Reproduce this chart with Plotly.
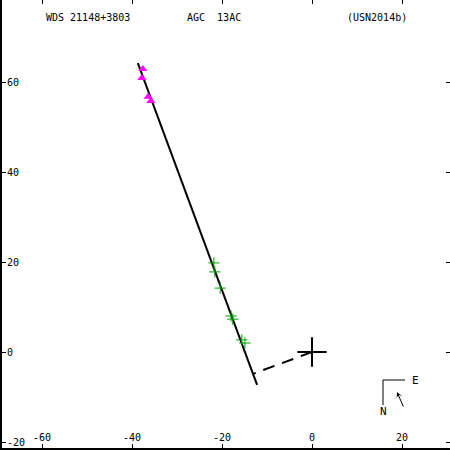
import plotly.graph_objects as go

# ---- data ----
fit_x = [-38.7, -12.2]          # linear fit line endpoints
fit_y = [64.2, -7.3]
perp_x = [0.0, -13.1]           # dashed line: primary -> closest point of fit
perp_y = [0.0, -4.85]
primary_x = [0.0]
primary_y = [0.0]
tri_x = [-37.6, -37.8, -36.4, -35.8]          # magenta triangles
tri_y = [62.9, 60.9, 56.7, 55.8]
plus_x = [-21.8, -21.6, -20.4, -18.0, -17.6, -15.6, -14.9]   # green pluses
plus_y = [19.8, 17.8, 14.2, 8.0, 7.3, 2.7, 2.0]

x_tick_vals = [-60, -40, -20, 0, 20]
x_tick_labels = ["-60", "-40", "-20", "0", "20"]
y_tick_vals = [-20, 0, 20, 40, 60]
y_tick_labels = ["-20", "0", "20", "40", "60"]

x_range = [-68.889, 30.667]
y_range = [-21.333, 78.222]

FONT = "DejaVu Sans Mono"
W, H = 450, 450
ML, MR, MT, MB = 2, 0, 0, 2
PW, PH = W - ML - MR, H - MT - MB


def px(p):
    return (p - ML) / PW


def py(p):
    return (H - MB - p) / PH


fig = go.Figure()
fig.add_trace(go.Scatter(x=fit_x, y=fit_y, mode="lines",
                         line=dict(color="black", width=2), showlegend=False))
fig.add_trace(go.Scatter(x=perp_x, y=perp_y, mode="lines",
                         line=dict(color="black", width=2, dash="12px,8px"),
                         showlegend=False))
fig.add_trace(go.Scatter(x=primary_x, y=primary_y, mode="markers",
                         marker=dict(symbol="cross-thin", size=21,
                                     line=dict(color="black", width=2)),
                         showlegend=False))
fig.add_trace(go.Scatter(x=plus_x, y=plus_y, mode="markers",
                         marker=dict(symbol="cross-thin", size=8,
                                     line=dict(color="#00a000", width=1)),
                         showlegend=False))
fig.add_trace(go.Scatter(x=tri_x, y=tri_y, mode="markers",
                         marker=dict(symbol="triangle-up", size=8, color="#ff00ff",
                                     line=dict(width=0)),
                         showlegend=False))
# invisible trace to carry the mirrored tick axes
fig.add_trace(go.Scatter(x=[None], y=[None], xaxis="x2", yaxis="y2",
                         mode="markers", showlegend=False, hoverinfo="skip"))

tickfont = dict(family=FONT, size=10, color="black")
fig.update_layout(
    width=W, height=H,
    margin=dict(l=ML, r=MR, t=MT, b=MB, pad=0),
    paper_bgcolor="white", plot_bgcolor="white",
    hovermode=False,
    xaxis=dict(range=x_range, showgrid=False, zeroline=False,
               showline=True, linecolor="black", linewidth=2,
               ticks="inside", ticklen=4, tickwidth=1, tickcolor="black",
               tickvals=x_tick_vals, ticktext=x_tick_labels,
               ticklabelposition="inside", ticklabeloverflow="allow",
               tickfont=tickfont),
    yaxis=dict(range=y_range, showgrid=False, zeroline=False,
               showline=True, linecolor="black", linewidth=2,
               ticks="inside", ticklen=4, tickwidth=1, tickcolor="black",
               tickvals=y_tick_vals, ticktext=y_tick_labels,
               ticklabelposition="inside", ticklabeloverflow="allow",
               tickfont=tickfont),
    xaxis2=dict(range=x_range, overlaying="x", side="top", anchor="y",
                showgrid=False, zeroline=False, showline=False,
                ticks="inside", ticklen=4, tickwidth=1, tickcolor="black",
                tickvals=x_tick_vals, showticklabels=False),
    yaxis2=dict(range=y_range, overlaying="y", side="right", anchor="x",
                showgrid=False, zeroline=False, showline=False,
                ticks="inside", ticklen=4, tickwidth=1, tickcolor="black",
                tickvals=y_tick_vals, showticklabels=False),
)

# header texts
for txt, x0 in [("WDS 21148+3803", 44), ("AGC\u00a0\u00a013AC", 185), ("(USN2014b)", 345)]:
    fig.add_annotation(xref="paper", yref="paper", x=px(x0), y=py(17),
                       xanchor="left", yanchor="middle", showarrow=False,
                       text=txt, font=dict(family=FONT, size=10, color="black"))

# compass
fig.add_shape(type="line", xref="paper", yref="paper",
              x0=px(383), y0=py(380), x1=px(405), y1=py(380),
              line=dict(color="black", width=1))
fig.add_shape(type="line", xref="paper", yref="paper",
              x0=px(383), y0=py(380), x1=px(383), y1=py(405),
              line=dict(color="black", width=1))
fig.add_annotation(xref="paper", yref="paper", x=px(410), y=py(380),
                   xanchor="left", yanchor="middle", showarrow=False, text="E",
                   font=dict(family=FONT, size=11, color="black"))
fig.add_annotation(xref="paper", yref="paper", x=px(383), y=py(411),
                   xanchor="center", yanchor="middle", showarrow=False, text="N",
                   font=dict(family=FONT, size=11, color="black"))
fig.add_annotation(xref="paper", yref="paper", x=px(397), y=py(392),
                   ax=7, ay=16, showarrow=True, text="",
                   arrowhead=3, arrowsize=1, arrowwidth=1, arrowcolor="black")

fig.write_html("out.html", config={"displayModeBar": False, "staticPlot": True},
               post_script="document.body.style.margin='0';document.body.style.padding='0';")
